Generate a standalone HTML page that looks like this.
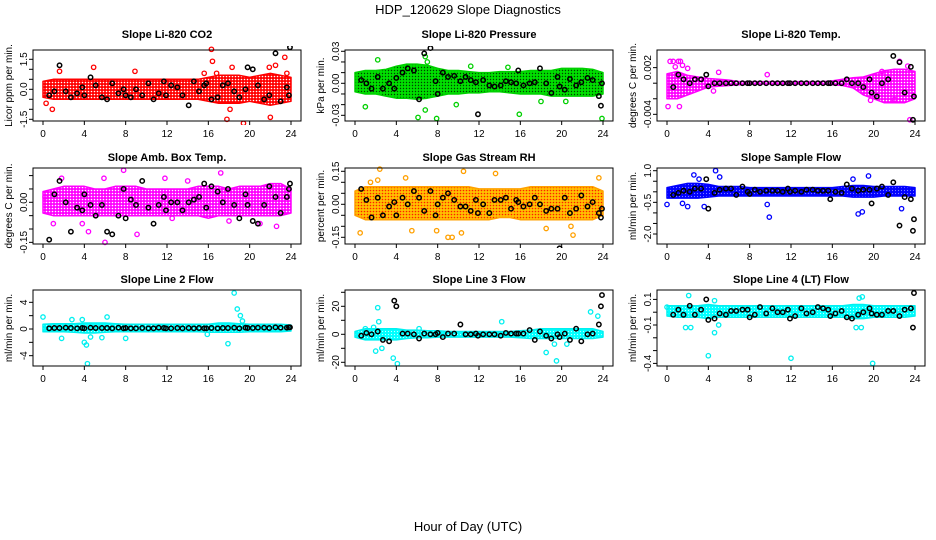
<!DOCTYPE html>
<html><head><meta charset="utf-8"><style>
html,body{margin:0;padding:0;background:#fff;}
svg{display:block;font-family:"Liberation Sans",sans-serif;}
</style></head><body>
<svg id="chart" width="936" height="540" viewBox="0 0 936 540" xmlns="http://www.w3.org/2000/svg">
<defs>
<pattern id="p-red" width="3" height="3" patternUnits="userSpaceOnUse"><rect width="3" height="3" fill="#ff0000"/><circle cx="1.5" cy="1.5" r="0.8" fill="#fff"/></pattern>
<pattern id="p-green" width="3" height="3" patternUnits="userSpaceOnUse"><rect width="3" height="3" fill="#00e000"/><circle cx="1.5" cy="1.5" r="0.7" fill="#004000"/></pattern>
<pattern id="p-magenta" width="3" height="3" patternUnits="userSpaceOnUse"><rect width="3" height="3" fill="#ff00ff"/><circle cx="1.5" cy="1.5" r="0.8" fill="#fff"/></pattern>
<pattern id="p-orange" width="3" height="3" patternUnits="userSpaceOnUse"><rect width="3" height="3" fill="#ffc000"/><circle cx="1.5" cy="1.5" r="0.8" fill="#ff2000"/></pattern>
<pattern id="p-blue" width="3" height="3" patternUnits="userSpaceOnUse"><rect width="3" height="3" fill="#0000ff"/><circle cx="1.5" cy="1.5" r="0.6" fill="#8080ff"/></pattern>
<pattern id="p-cyan" width="3" height="3" patternUnits="userSpaceOnUse"><rect width="3" height="3" fill="#00ffff"/><circle cx="1.5" cy="1.5" r="0.6" fill="#c0ffff"/></pattern>
</defs>
<text x="468" y="14" text-anchor="middle" font-size="13">HDP_120629  Slope Diagnostics</text>
<text x="468" y="531" text-anchor="middle" font-size="13">Hour of Day (UTC)</text>
</svg>
<script>
const bandHours = [0,1,2,3,4,5,6,7,8,9,10,11,12,13,14,15,16,17,18,19,20,21,22,23,24];
const blackHours = [0.6,1.1,1.6,2.2,2.7,3.3,3.8,4.0,4.6,5.1,5.7,6.2,6.7,7.3,7.8,8.0,8.5,9.0,9.6,10.2,10.7,11.2,11.7,11.9,12.4,13.0,13.5,14.1,14.6,15.1,15.6,15.8,16.3,16.9,17.4,17.9,18.5,19.0,19.6,19.8,20.3,20.8,21.4,21.9,22.5,23.0,23.6,23.8,23.9];
const xTicks = [0,4,8,12,16,20,24];

const co2BandLo = [-0.4,-0.5,-0.5,-0.5,-0.5,-0.5,-0.5,-0.5,-0.5,-0.5,-0.5,-0.5,-0.5,-0.5,-0.5,-0.5,-0.6,-0.7,-0.7,-0.7,-0.6,-0.7,-0.8,-0.7,-0.6];
const co2BandHi = [0.4,0.5,0.5,0.5,0.5,0.5,0.5,0.5,0.5,0.5,0.5,0.5,0.5,0.5,0.5,0.5,0.6,0.7,0.7,0.7,0.6,0.7,0.8,0.7,0.6];
const co2ExtraX = [1.6,4.9,8.9,16.3,16.4,17.8,18.1,18.3,19.4,22,21.9,22.5,23.4,0.9,0.3,23.6,15.6,16.8];
const co2ExtraY = [0.9,1.1,0.9,2.0,1.4,-1.5,-1.0,1.1,-1.7,-1.4,1.1,1.2,1.6,-1.0,-0.7,0.8,0.8,0.8];
const co2Black = [-0.3,-0.1,1.2,-0.1,-0.4,-0.2,0.1,-0.3,0.6,0.2,-0.4,-0.5,0.3,-0.2,0.0,-0.3,-0.4,0.0,-0.3,0.3,-0.5,-0.2,0.4,-0.3,0.2,0.1,-0.3,-0.8,0.4,-0.1,0.2,0.3,-0.5,-0.4,0.2,0.3,-0.1,-0.4,0.0,1.1,1.0,0.2,-0.5,-0.3,1.8,-0.6,0.1,-0.3,2.1];
const co2Ticks = [-1.5,-1,-0.5,0,0.5,1,1.5];
const co2Labels = ["-1.5","0.0","1.5"];
const co2LabelVals = [-1.5,0,1.5];

const presBandLo = [-0.008,-0.01,-0.01,-0.012,-0.014,-0.014,-0.015,-0.014,-0.012,-0.01,-0.01,-0.009,-0.009,-0.008,-0.008,-0.009,-0.01,-0.01,-0.01,-0.012,-0.012,-0.012,-0.012,-0.012,-0.01];
const presBandHi = [0.01,0.012,0.012,0.013,0.016,0.018,0.018,0.017,0.014,0.012,0.012,0.011,0.01,0.01,0.011,0.011,0.011,0.012,0.012,0.012,0.014,0.014,0.014,0.013,0.01];
const presExtraX = [2.2,1.0,6.8,6.1,7.9,6.8,9.8,15.9,18.0,20.4,23.9,7.0,11.2,14.8];
const presExtraY = [0.022,-0.022,0.025,-0.032,-0.033,-0.025,-0.02,-0.029,-0.017,-0.017,-0.033,0.02,0.016,0.015];
const presBlack = [0.003,0.0,-0.005,0.006,-0.005,0.0,-0.005,0.005,0.01,0.014,0.012,-0.015,0.028,0.033,0.002,-0.01,0.01,0.006,0.007,0.002,0.006,0.003,0.001,-0.029,0.003,-0.002,-0.003,-0.002,0.002,0.001,0.0,0.012,-0.002,0.0,0.001,0.014,0.0,-0.009,0.006,-0.003,-0.006,0.004,-0.002,0.001,0.005,0.003,-0.012,-0.021,0.0];
const presTicks = [-0.03,-0.02,-0.01,0,0.01,0.02,0.03];
const presLabels = ["-0.03","0.00","0.03"];
const presLabelVals = [-0.03,0,0.03];

const tempBandLo = [-0.002,-0.002,-0.0015,-0.001,-0.0005,-0.0004,-0.0003,-0.0002,-0.0001,-0.0001,-0.0001,-0.0001,-0.0001,-0.0001,-0.0001,-0.0001,-0.0002,-0.0003,-0.0006,-0.0015,-0.002,-0.0025,-0.0025,-0.0025,-0.002];
const tempBandHi = [0.0012,0.0015,0.001,0.0008,0.0006,0.0005,0.0004,0.0002,0.0002,0.0002,0.0002,0.0002,0.0002,0.0002,0.0002,0.0002,0.0003,0.0005,0.0007,0.0008,0.0012,0.0016,0.0018,0.0018,0.0015];
const tempExtraX = [0.3,0.6,1.1,1.3,0.1,1.2,1.5,2.0,5.0,9.7,4.5,23.5,19.7,22.0,22.5,20.8,0.8,23.3];
const tempExtraY = [0.0028,0.0028,0.0028,0.0028,-0.003,-0.003,0.0023,0.0019,0.0014,0.0011,-0.001,-0.0047,-0.0022,-0.0021,0.0028,0.0015,0.0021,0.0022];
const tempBlack = [-0.0005,0.0011,0.0005,0,0.0005,0.0005,0.0011,-0.0004,0,0,0,0,0,0,0,0,0,0,0,0,0,0,0,0,0,0,0,0,0,0,0,0,0,0,0.0005,0,0,-0.0005,0.0005,-0.0012,-0.0017,0,0.0005,0.0035,0.0027,-0.0012,0.0021,-0.0047,-0.0017];
const tempTicks = [-0.004,-0.002,0,0.002];
const tempLabels = ["-0.004","0.002"];
const tempLabelVals = [-0.004,0.002];

const ambBandLo = [-0.04,-0.05,-0.05,-0.05,-0.05,-0.05,-0.05,-0.05,-0.05,-0.05,-0.05,-0.05,-0.05,-0.05,-0.05,-0.05,-0.06,-0.05,-0.05,-0.05,-0.05,-0.05,-0.05,-0.05,-0.04];
const ambBandHi = [0.04,0.05,0.06,0.06,0.06,0.05,0.05,0.06,0.06,0.06,0.05,0.05,0.05,0.05,0.05,0.06,0.06,0.06,0.05,0.06,0.06,0.06,0.07,0.07,0.05];
const ambExtraX = [7.8,17.2,6.0,9.1,4.4,1.8,11.8,22.6,1.0,5.9,3.8,12.5,18.0,21.0,14.0,0.2];
const ambExtraY = [0.12,0.11,-0.15,-0.12,-0.11,0.09,0.09,-0.09,-0.08,0.09,-0.08,-0.06,-0.07,-0.08,0.08,0.02];
const ambBlack = [-0.14,0.03,0.08,0.0,-0.11,-0.02,-0.03,0.03,-0.01,-0.05,-0.01,-0.11,-0.12,-0.05,0.05,-0.06,0.01,-0.01,0.08,-0.02,-0.08,-0.01,0.02,-0.03,0.0,0.0,-0.03,0.0,0.01,0.02,0.07,-0.02,0.06,0.04,0.0,0.05,-0.01,-0.06,0.03,-0.01,-0.07,-0.08,-0.01,0.06,0.02,-0.04,0.02,0.05,0.07];
const ambTicks = [-0.15,-0.1,-0.05,0,0.05,0.1];
const ambLabels = ["-0.15","0.00"];
const ambLabelVals = [-0.15,0];

const rhBandLo = [-0.05,-0.07,-0.07,-0.07,-0.07,-0.07,-0.07,-0.07,-0.07,-0.07,-0.07,-0.07,-0.07,-0.07,-0.06,-0.06,-0.07,-0.07,-0.07,-0.07,-0.07,-0.07,-0.07,-0.07,-0.05];
const rhBandHi = [0.06,0.08,0.08,0.08,0.08,0.08,0.08,0.08,0.08,0.08,0.08,0.08,0.07,0.07,0.07,0.07,0.07,0.08,0.08,0.08,0.08,0.08,0.08,0.08,0.06];
const rhExtraX = [0.5,5.5,2.4,10.5,13.6,9.0,9.4,10.3,7.9,21.1,23.6,4.9,1.5,2.2,18.5,20.9];
const rhExtraY = [-0.13,-0.12,0.16,0.15,0.14,-0.15,-0.15,-0.13,-0.12,-0.14,0.12,0.12,0.1,0.11,-0.11,-0.1];
const rhBlack = [0.07,0.02,-0.06,0.03,-0.05,-0.01,0.01,-0.05,0.03,0.0,0.06,0.03,-0.03,0.06,-0.05,0.0,0.03,0.05,0.02,-0.01,-0.01,-0.03,0.02,-0.04,0.0,-0.04,0.02,0.02,0.03,-0.02,0.02,0.01,-0.01,0.0,0.03,0.0,-0.03,-0.02,-0.02,-0.2,0.03,-0.04,-0.02,0.04,-0.01,0.01,-0.04,-0.06,-0.02];
const rhTicks = [-0.15,-0.1,-0.05,0,0.05,0.1,0.15];
const rhLabels = ["-0.15","0.00","0.15"];
const rhLabelVals = [-0.15,0,0.15];

const sfBandLo = [-0.3,-0.3,-0.3,-0.3,-0.25,-0.2,-0.2,-0.2,-0.2,-0.2,-0.2,-0.2,-0.2,-0.2,-0.2,-0.2,-0.2,-0.2,-0.25,-0.25,-0.25,-0.2,-0.2,-0.2,-0.2];
const sfBandHi = [0.2,0.3,0.4,0.4,0.35,0.25,0.25,0.25,0.2,0.2,0.2,0.2,0.2,0.2,0.2,0.2,0.2,0.25,0.3,0.3,0.25,0.25,0.25,0.25,0.2];
const sfExtraX = [4.7,2.6,5.1,19.5,18.0,0.0,9.9,9.7,18.5,18.9,22.7,2.0,3.6,3.1,1.5];
const sfExtraY = [1.0,0.8,0.7,0.75,0.6,-0.6,-1.2,-0.6,-1.05,-0.95,-0.8,-0.7,-0.7,0.6,-0.55];
const sfBlack = [-0.15,-0.05,0.05,0.0,0.15,0.15,0.6,-0.8,-0.05,0.1,0.15,0.15,-0.15,0.25,0.0,-0.1,0.1,0.0,0.05,0.05,0.05,0.0,0.15,0.0,0.05,0.0,0.1,0.1,0.05,0.05,0.05,-0.35,0.0,-0.05,0.35,0.15,0.05,0.1,0.1,-0.55,0.15,0.25,-0.15,0.45,-1.6,-0.25,-0.35,-1.85,-1.3];
const sfTicks = [-2,-1.5,-1,-0.5,0,0.5,1];
const sfLabels = ["-2.0","-0.5","1.0"];
const sfLabelVals = [-2,-0.5,1];

const l2BandLo = [-0.4,-0.4,-0.4,-0.5,-0.6,-0.6,-0.5,-0.4,-0.4,-0.4,-0.4,-0.4,-0.4,-0.4,-0.4,-0.4,-0.5,-0.5,-0.5,-0.5,-0.4,-0.4,-0.4,-0.4,-0.3];
const l2BandHi = [0.7,0.8,0.8,0.8,0.9,0.9,0.9,0.8,0.7,0.7,0.7,0.7,0.7,0.7,0.7,0.7,0.7,0.9,0.9,0.8,0.7,0.7,0.7,0.7,0.6];
const l2ExtraX = [0.0,1.8,4.0,4.2,4.3,4.6,6.2,8.0,15.9,17.9,18.5,18.8,19.1,19.3,5.7,3.8,2.8];
const l2ExtraY = [1.8,-1.4,-2.0,-2.4,-5.2,-1.2,1.8,-1.4,-0.8,-2.2,5.4,3.0,2.0,1.2,-1.3,1.4,1.4];
const l2Black = [0.1,0.15,0.15,0.2,0.15,0.1,0.15,0.1,0.2,0.15,0.15,0.15,0.1,0.2,0.1,0.15,0.1,0.1,0.15,0.1,0.1,0.2,0.15,0.1,0.1,0.15,0.1,0.15,0.1,0.15,0.1,0.1,0.15,0.1,0.15,0.15,0.2,0.1,0.2,0.15,0.15,0.2,0.2,0.15,0.25,0.2,0.2,0.25,0.25];
const l2Ticks = [-4,-2,0,2,4];
const l2Labels = ["-4","0","4"];
const l2LabelVals = [-4,0,4];

const l3BandLo = [-2,-4,-4,-4,-4,-3,-2.5,-2.5,-2,-2,-2,-2,-2,-2,-2,-2,-2.5,-3,-3,-3,-3,-3,-3,-3,-2];
const l3BandHi = [2,4,4,4,4,3,3,2.5,2.5,2,2,2,2,2,2,2,2.5,3,4,4,4,4,4,4,2];
const l3ExtraX = [2.2,2.3,2.0,2.6,3.7,4.1,14.2,18.5,19.5,22.8,23.5,19.3,20.5,1.8,1.0,6.2];
const l3ExtraY = [19,9,-12,-10,-17,-21,9,-13,-19,16,13,-7,-7,5,4,4];
const l3Black = [-1,1,0,2,-4,-5,24,20,0.5,0.5,0,-3,0.5,0,0,1,-2,0.5,0.5,7,0,0,0.5,-1,0,0,0,-1,1,0.5,0.5,0.5,0.5,3,-4,2,-1,-3,0,-2,0.5,-4,4,-5,0,0.5,7,20,28];
const l3Ticks = [-20,-10,0,10,20,30];
const l3Labels = ["-20","0","20"];
const l3LabelVals = [-20,0,20];

const l4BandLo = [-0.03,-0.04,-0.04,-0.04,-0.05,-0.04,-0.04,-0.04,-0.04,-0.04,-0.04,-0.04,-0.04,-0.04,-0.04,-0.04,-0.04,-0.04,-0.05,-0.05,-0.04,-0.04,-0.04,-0.04,-0.03];
const l4BandHi = [0.05,0.05,0.05,0.05,0.06,0.05,0.05,0.05,0.05,0.05,0.05,0.05,0.05,0.05,0.05,0.05,0.05,0.05,0.06,0.06,0.05,0.05,0.05,0.05,0.05];
const l4ExtraX = [2.1,1.8,2.3,4.0,4.6,5.0,12.0,19.9,18.3,18.8,18.6,18.9,4.6,0.0];
const l4ExtraY = [0.13,-0.12,-0.12,-0.34,-0.16,-0.1,-0.36,-0.4,-0.12,-0.12,0.11,0.12,0.09,0.04];
const l4Black = [-0.02,0.02,-0.02,0.05,-0.02,0.02,0.1,-0.06,-0.05,-0.01,-0.02,0.01,0.01,0.02,0.02,-0.04,-0.02,0.04,-0.01,0.03,0.0,0.0,0.02,-0.05,-0.03,0.03,-0.01,0.0,0.04,0.03,0.02,-0.03,-0.01,0.01,-0.04,-0.05,-0.02,0.0,0.03,-0.01,-0.02,-0.02,0.01,0.01,-0.03,0.02,0.03,-0.12,0.15];
const l4Ticks = [-0.4,-0.3,-0.2,-0.1,0,0.1];
const l4Labels = ["-0.4","-0.1","0.1"];
const l4LabelVals = [-0.4,-0.1,0.1];

const rows = [{top:50,bot:121,title:38},{top:168,bot:244,title:161},{top:290,bot:366,title:283}];
const panels = [
 {key:'co2',title:'Slope Li-820 CO2',ylab:'Licor ppm per min.',col:0,row:0,y0:89.3,k:20,fill:'p-red',pc:'#ff0000',lo:co2BandLo,hi:co2BandHi,ex:co2ExtraX,ey:co2ExtraY,bl:co2Black,ticks:co2Ticks,lv:co2LabelVals,lt:co2Labels},
 {key:'pressure',title:'Slope Li-820 Pressure',ylab:'kPa per min.',col:1,row:0,y0:83.3,k:1067,fill:'p-green',pc:'#00d000',lo:presBandLo,hi:presBandHi,ex:presExtraX,ey:presExtraY,bl:presBlack,ticks:presTicks,lv:presLabelVals,lt:presLabels},
 {key:'li820-temp',title:'Slope Li-820 Temp.',ylab:'degrees C per min.',col:2,row:0,y0:83.2,k:7783,fill:'p-magenta',pc:'#ff00ff',lo:tempBandLo,hi:tempBandHi,ex:tempExtraX,ey:tempExtraY,bl:tempBlack,ticks:tempTicks,lv:tempLabelVals,lt:tempLabels},
 {key:'amb-box-temp',title:'Slope Amb. Box Temp.',ylab:'degrees C per min.',col:0,row:1,y0:202.3,k:267,fill:'p-magenta',pc:'#ff00ff',lo:ambBandLo,hi:ambBandHi,ex:ambExtraX,ey:ambExtraY,bl:ambBlack,ticks:ambTicks,lv:ambLabelVals,lt:ambLabels},
 {key:'gas-stream-rh',title:'Slope Gas Stream RH',ylab:'percent per min.',col:1,row:1,y0:204.3,k:220,fill:'p-orange',pc:'#ffa000',lo:rhBandLo,hi:rhBandHi,ex:rhExtraX,ey:rhExtraY,bl:rhBlack,ticks:rhTicks,lv:rhLabelVals,lt:rhLabels},
 {key:'sample-flow',title:'Slope Sample Flow',ylab:'ml/min per min.',col:2,row:1,y0:191.8,k:21.1,fill:'p-blue',pc:'#0000ff',lo:sfBandLo,hi:sfBandHi,ex:sfExtraX,ey:sfExtraY,bl:sfBlack,ticks:sfTicks,lv:sfLabelVals,lt:sfLabels},
 {key:'line2-flow',title:'Slope Line 2 Flow',ylab:'ml/min per min.',col:0,row:2,y0:329,k:6.67,fill:'p-cyan',pc:'#00f0f0',lo:l2BandLo,hi:l2BandHi,ex:l2ExtraX,ey:l2ExtraY,bl:l2Black,ticks:l2Ticks,lv:l2LabelVals,lt:l2Labels},
 {key:'line3-flow',title:'Slope Line 3 Flow',ylab:'ml/min per min.',col:1,row:2,y0:334.3,k:1.4,fill:'p-cyan',pc:'#00f0f0',lo:l3BandLo,hi:l3BandHi,ex:l3ExtraX,ey:l3ExtraY,bl:l3Black,ticks:l3Ticks,lv:l3LabelVals,lt:l3Labels},
 {key:'line4-flow',title:'Slope Line 4 (LT) Flow',ylab:'ml/min per min.',col:2,row:2,y0:312.2,k:128,fill:'p-cyan',pc:'#00f0f0',lo:l4BandLo,hi:l4BandHi,ex:l4ExtraX,ey:l4ExtraY,bl:l4Black,ticks:l4Ticks,lv:l4LabelVals,lt:l4Labels}
];

const NS = 'http://www.w3.org/2000/svg';
const svg = document.getElementById('chart');
function mk(tag, attrs, parent){
  const e = document.createElementNS(NS, tag);
  for (const a in attrs) e.setAttribute(a, attrs[a]);
  (parent||svg).appendChild(e);
  return e;
}

panels.forEach(p => {
  const ox = p.col*312, r = rows[p.row];
  const L = ox+33, R = ox+301, T = r.top, B = r.bot;
  const xs = h => ox+43 + h*(248/24);
  const ys = v => p.y0 - v*p.k;
  const g = mk('g', {});
  
  
  const clipId = 'clip-' + p.key;
  const cp = mk('clipPath', {id: clipId}, g);
  mk('rect', {x:L-4, y:T-4, width:R-L+8, height:B-T+8}, cp);
  const plot = mk('g', {'clip-path':'url(#'+clipId+')'}, g);

  let d = '';
  bandHours.forEach((h,i)=>{ d += (i?'L':'M') + xs(h).toFixed(1)+','+ys(p.hi[i]).toFixed(1); });
  for (let i=bandHours.length-1;i>=0;i--) d += 'L'+xs(bandHours[i]).toFixed(1)+','+ys(p.lo[i]).toFixed(1);
  const band = mk('path', {d:d+'Z', fill:'url(#'+p.fill+')', stroke:p.pc, 'stroke-width':1.5, 'stroke-linejoin':'round'}, plot);
  
  

  p.ex.forEach((h,i)=>{
    const c = mk('circle', {cx:xs(h), cy:ys(p.ey[i]), r:2.2, fill:'none', stroke:p.pc, 'stroke-width':1.3}, plot);
    
    
  });
  blackHours.forEach((h,i)=>{
    const c = mk('circle', {cx:xs(h), cy:ys(p.bl[i]), r:2.2, fill:'none', stroke:'#000', 'stroke-width':1.5}, plot);
    
    
  });

  const box = mk('rect', {x:L, y:T, width:R-L, height:B-T, fill:'none', stroke:'#000', 'stroke-width':1}, g);
  
  

  xTicks.forEach(t=>{
    mk('line', {x1:xs(t), x2:xs(t), y1:B, y2:B+4, stroke:'#000'}, g);
    const tx = mk('text', {x:xs(t), y:B+16, 'text-anchor':'middle', 'font-size':10}, g);
    tx.textContent = t;
    
    
  });
  p.ticks.forEach(t=>{
    mk('line', {x1:L, x2:L-4, y1:ys(t), y2:ys(t), stroke:'#000'}, g);
  });
  p.lv.forEach((v,i)=>{
    const tx = mk('text', {x:0, y:0, 'text-anchor':'middle', 'font-size':10, transform:'translate('+(ox+27)+','+ys(v).toFixed(1)+') rotate(-90)'}, g);
    tx.textContent = p.lt[i];
    
    
  });
  const yl = mk('text', {x:0, y:0, 'text-anchor':'middle', 'font-size':10, transform:'translate('+(ox+12)+','+((T+B)/2)+') rotate(-90)'}, g);
  yl.textContent = p.ylab;
  
  
  const ti = mk('text', {x:(L+R)/2, y:r.title, 'text-anchor':'middle', 'font-size':11, 'font-weight':'bold'}, g);
  ti.textContent = p.title;
  
  
});
</script>
</body></html>
